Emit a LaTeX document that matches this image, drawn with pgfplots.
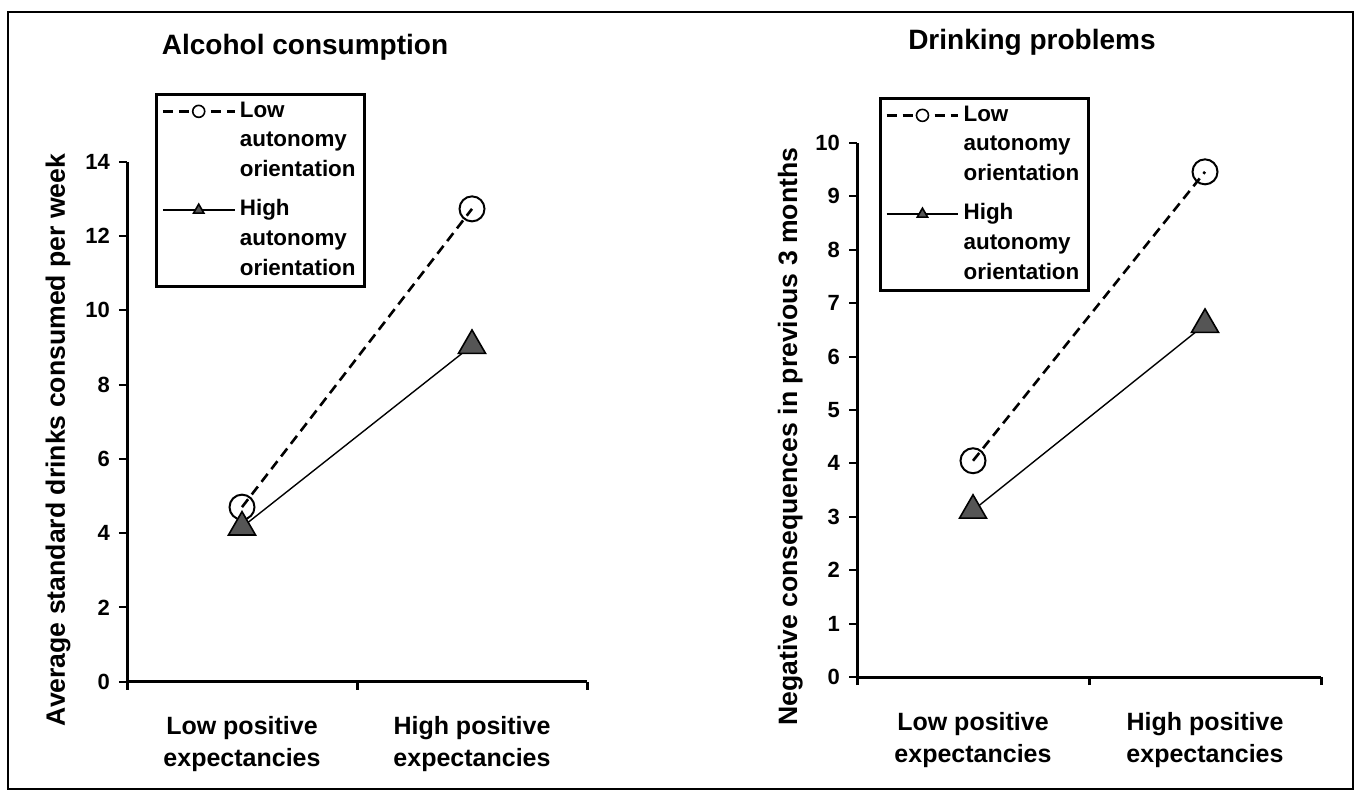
\documentclass[border=0pt]{standalone}
\usepackage{fontspec}
\setmainfont{Liberation Sans}
\usepackage{pgfplots}
\pgfplotsset{compat=1.18}
\definecolor{trifill}{RGB}{85,85,85}
\pgfplotsset{
  panel/.style={
    scale only axis,
    axis lines*=left,
    axis line style={line width=1.5pt,-},
    xmin=0, xmax=2,
    xtick={0,1,2},
    xticklabels={},
    extra x ticks={0.5,1.5},
    extra x tick labels={{Low positive\\expectancies},{High positive\\expectancies}},
    extra x tick style={major tick length=0pt},
    tick align=outside,
    major tick length=4pt,
    xtick style={line width=1.5pt,black},
    ytick style={line width=1pt,black},
    /pgf/number format/assume math mode=true,
    yticklabel style={font=\bfseries\fontsize{11}{12}\selectfont, xshift=-1pt},
    xticklabel style={align=center, font=\bfseries\fontsize{12.5}{16}\selectfont, yshift=-14pt},
    ylabel style={font=\bfseries\fontsize{13.3}{15}\selectfont},
    title style={font=\bfseries\fontsize{14}{16}\selectfont, anchor=base},
    legend style={draw=black, line width=1.5pt, anchor=north west,
      font=\bfseries\fontsize{11.2}{13}\selectfont,
      inner xsep=2.5pt, inner ysep=1pt, row sep=0pt,
      nodes={inner ysep=2pt, text height=8.3pt, text depth=2.5pt},
      cells={anchor=west}},
    legend image code/.code={%
      \draw[#1, mark repeat=2, mark phase=2, mark size=3pt]
        plot coordinates {(0cm,0cm) (0.63cm,0cm) (1.26cm,0cm)};},
  },
  lowline/.style={black, line width=1.3pt, dash pattern=on 5pt off 3pt,
    mark=o, mark size=6.25pt, mark options={solid, line width=1pt}},
  lowlegend/.style={black, line width=1.3pt, dash pattern=on 5pt off 3pt,
    mark=*, mark options={solid, fill=white, draw=black, line width=0.8pt}},
  highline/.style={black, line width=0.7pt,
    mark=triangle*, mark size=7.8pt, mark options={solid, fill=trifill, draw=black, line width=0.8pt}},
}
\begin{document}
\begin{tikzpicture}
\path[use as bounding box] (0pt,0pt) rectangle (679pt,396.5pt);
\draw[line width=1pt] (4pt,2pt) rectangle (676.5pt,390.5pt);

% Left panel
\begin{axis}[panel,
  at={(63.5pt,55.65pt)}, anchor=south west,
  width=230pt, height=260pt,
  ymin=0, ymax=14, ytick={0,2,...,14},
  title={Alcohol consumption},
  title style={at={(0.387,1.184)}},
  ylabel={Average standard drinks consumed per week},
  ylabel style={at={(axis description cs:-0.15,0.465)}, anchor=center},
  legend style={at={(axis description cs:0.061,1.132)}},
]
\addlegendimage{lowlegend}\addlegendentry{Low}
\addlegendimage{empty legend}\addlegendentry{autonomy}
\addlegendimage{empty legend}\addlegendentry[text depth=7.5pt]{orientation}
\addplot[lowline, forget plot] coordinates {(0.5,4.7) (1.5,12.73)};
\addplot[highline] coordinates {(0.5,4.16) (1.5,9.05)};
\addlegendentry{High}
\addlegendimage{empty legend}\addlegendentry{autonomy}
\addlegendimage{empty legend}\addlegendentry{orientation}
\end{axis}

% Right panel
\begin{axis}[panel,
  at={(428.5pt,58pt)}, anchor=south west,
  width=232pt, height=267pt,
  ymin=0, ymax=10, ytick={0,1,...,10},
  title={Drinking problems},
  title style={at={(0.377,1.152)}},
  ylabel={Negative consequences in previous 3 months},
  ylabel style={at={(axis description cs:-0.144,0.45)}, anchor=center},
  legend style={at={(axis description cs:0.047,1.086)}},
]
\addlegendimage{lowlegend}\addlegendentry{Low}
\addlegendimage{empty legend}\addlegendentry{autonomy}
\addlegendimage{empty legend}\addlegendentry[text depth=7.5pt]{orientation}
\addplot[lowline, forget plot] coordinates {(0.5,4.05) (1.5,9.46)};
\addplot[highline] coordinates {(0.5,3.12) (1.5,6.6)};
\addlegendentry{High}
\addlegendimage{empty legend}\addlegendentry{autonomy}
\addlegendimage{empty legend}\addlegendentry{orientation}
\end{axis}
\end{tikzpicture}
\end{document}
